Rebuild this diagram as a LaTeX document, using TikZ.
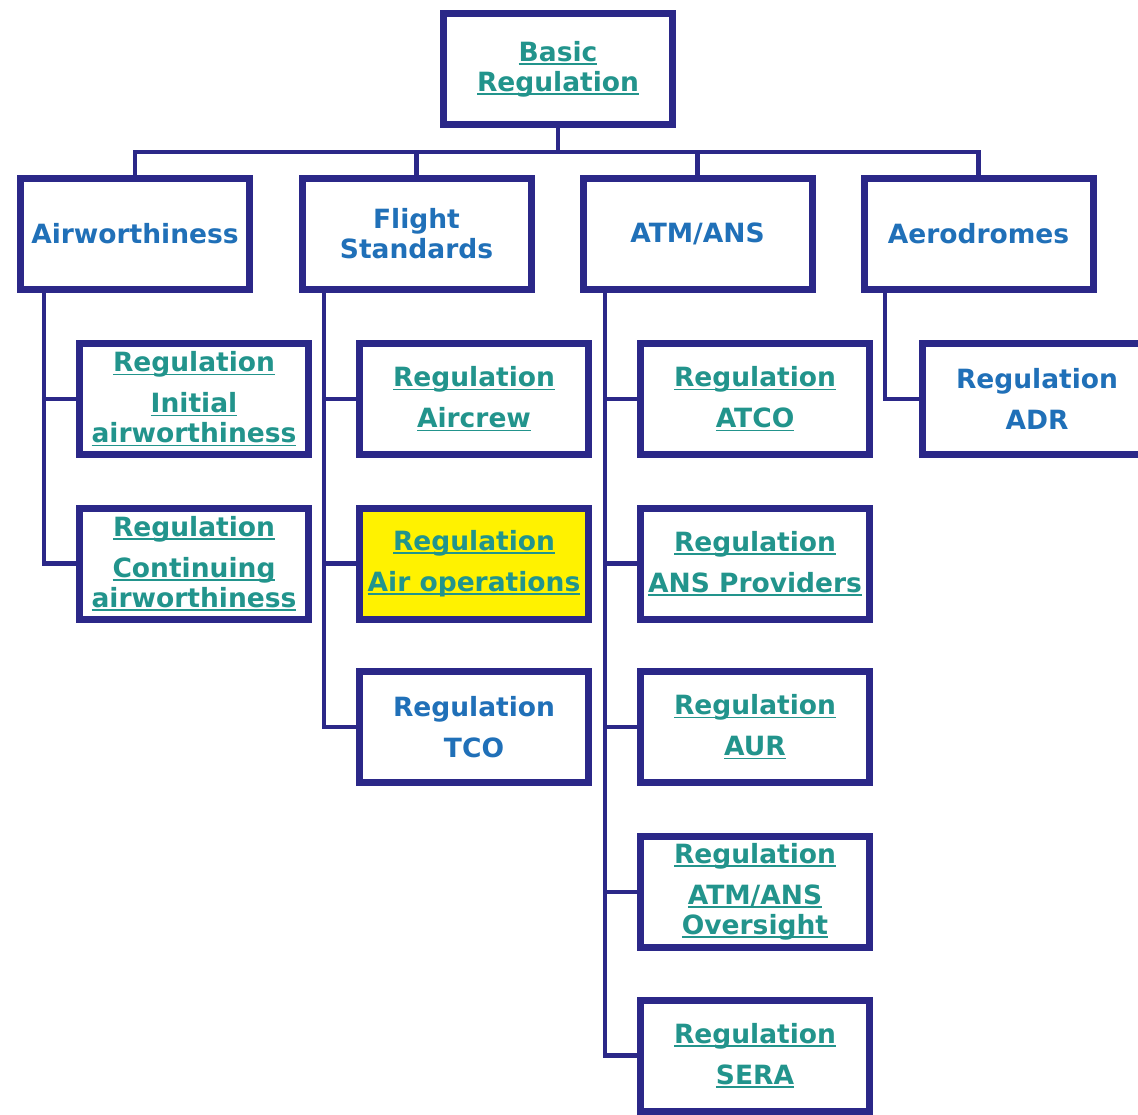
\documentclass[tikz,border=0pt]{standalone}
\usepackage{fontspec}
\newfontfamily\vfont{DejaVu Sans}
\usetikzlibrary{shadows}
\definecolor{navy}{RGB}{43,40,136}
\definecolor{teal}{RGB}{34,148,140}
\definecolor{linkblue}{RGB}{32,112,184}
\newcommand\myul[1]{\setbox0\hbox{#1}\rlap{\rule[-3.5pt]{\wd0}{1.8pt}}\box0}
\tikzset{
  box/.style={draw=navy, line width=7pt, fill=white, rectangle,
    minimum width=229pt, minimum height=111pt, inner sep=0pt, align=center,
    font=\vfont\bfseries\fontsize{26.5}{30}\selectfont,
    drop shadow={shadow xshift=2pt, shadow yshift=-3pt, opacity=0.25, fill=gray}},
  lnk/.style={text=teal},
  plain/.style={text=linkblue},
  conn/.style={draw=navy, line width=4.5pt}
}
\begin{document}
\begin{tikzpicture}[x=1pt,y=-1pt]
\useasboundingbox (0,0) rectangle (1138,1115);
\fill[white] (0,0) rectangle (1138,1115);
% top
\node[box,lnk] (top) at (558,69) {\myul{Basic}\\\myul{Regulation}};
% level 2
\node[box,plain] (air) at (135,234) {Airworthiness};
\node[box,plain] (fs) at (416.5,234) {Flight\\Standards};
\node[box,plain] (atm) at (697.5,234) {ATM/ANS};
\node[box,plain] (ads) at (978.5,234) {Aerodromes};
% bus
\coordinate (bus) at (0,152);
\draw[conn] (top.south) -- (top.south |- bus);
\draw[conn] (air.north) |- (ads.north |- bus) -- (ads.north);
\draw[conn] (fs.north) -- (fs.north |- bus);
\draw[conn] (atm.north) -- (atm.north |- bus);
% trunks
\coordinate (tA) at (44,293);
\coordinate (tF) at (324,293);
\coordinate (tT) at (605,293);
\coordinate (tD) at (885,293);
% airworthiness children
\node[box,lnk] (ia) at (194,399) {\myul{Regulation}\\[11pt]\myul{Initial}\\\myul{airworthiness}};
\node[box,lnk] (ca) at (194,563.5) {\myul{Regulation}\\[11pt]\myul{Continuing}\\\myul{airworthiness}};
% flight standards children
\node[box,lnk] (ac) at (474,399) {\myul{Regulation}\\[11pt]\myul{Aircrew}};
\node[box,lnk,fill=yellow] (ao) at (474,563.5) {\myul{Regulation}\\[11pt]\myul{Air operations}};
\node[box,plain] (tco) at (474,727) {Regulation\\[11pt]TCO};
% ATM/ANS children
\node[box,lnk] (atco) at (755,399) {\myul{Regulation}\\[11pt]\myul{ATCO}};
\node[box,lnk] (ansp) at (755,563.5) {\myul{Regulation}\\[11pt]\myul{ANS Providers}};
\node[box,lnk] (aur) at (755,727) {\myul{Regulation}\\[11pt]\myul{AUR}};
\node[box,lnk] (ovs) at (755,892) {\myul{Regulation}\\[11pt]\myul{ATM/ANS}\\\myul{Oversight}};
\node[box,lnk] (sera) at (755,1055.5) {\myul{Regulation}\\[11pt]\myul{SERA}};
% aerodromes child
\node[box,plain] (adr) at (1037,399) {Regulation\\[11pt]ADR};
% connectors
\draw[conn] (air.south -| tA) |- (ia.west);
\draw[conn] (air.south -| tA) |- (ca.west);
\draw[conn] (fs.south -| tF) |- (ac.west);
\draw[conn] (fs.south -| tF) |- (ao.west);
\draw[conn] (fs.south -| tF) |- (tco.west);
\draw[conn] (atm.south -| tT) |- (atco.west);
\draw[conn] (atm.south -| tT) |- (ansp.west);
\draw[conn] (atm.south -| tT) |- (aur.west);
\draw[conn] (atm.south -| tT) |- (ovs.west);
\draw[conn] (atm.south -| tT) |- (sera.west);
\draw[conn] (ads.south -| tD) |- (adr.west);
\end{tikzpicture}
\end{document}
